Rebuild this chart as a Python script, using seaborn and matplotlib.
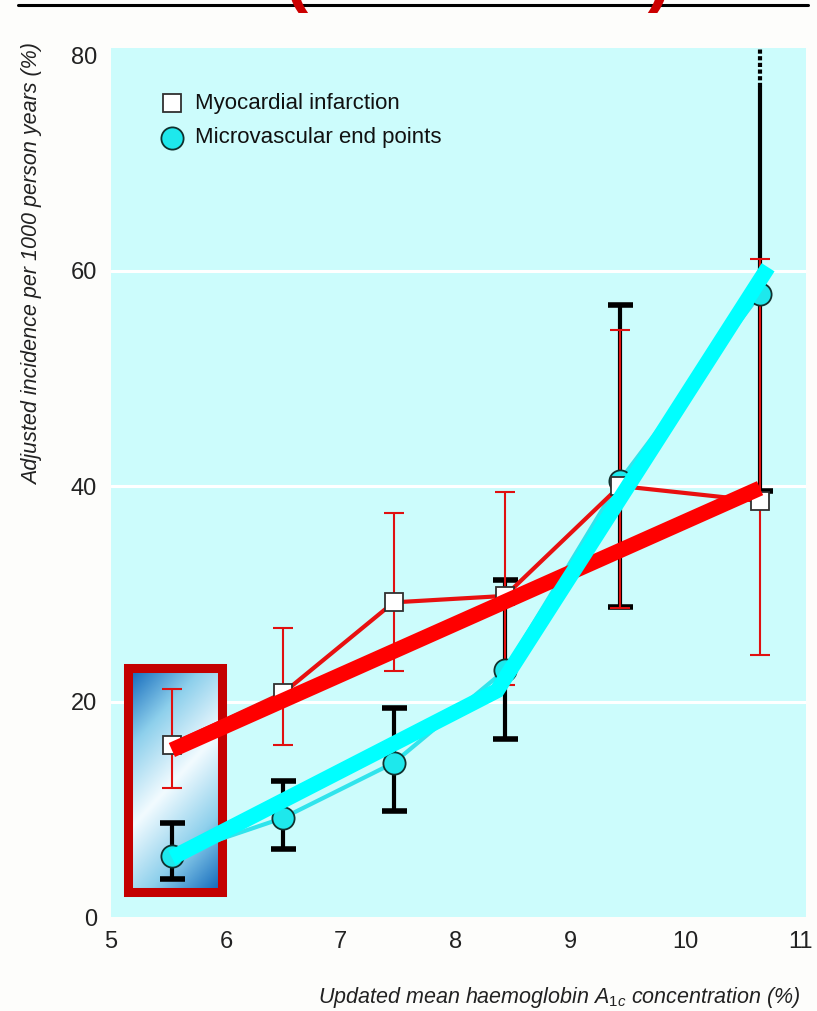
import numpy as np
import pandas as pd
import matplotlib
matplotlib.use('Agg')
import matplotlib.pyplot as plt
from matplotlib.patches import Rectangle
import seaborn as sns

# updated mean HbA1c groups (x) and adjusted incidence per 1000 person years
hba1c = [5.53, 6.50, 7.46, 8.43, 9.43, 10.65]
mi_rate = [16.0, 20.8, 29.2, 29.8, 40.0, 38.6]
mi_lo = [12.0, 16.0, 22.8, 21.5, 28.7, 24.3]
mi_hi = [21.2, 26.8, 37.5, 39.4, 54.5, 61.1]
micro_rate = [5.7, 9.2, 14.3, 22.9, 40.5, 57.8]
micro_lo = [3.5, 6.3, 9.8, 16.5, 28.8, 39.5]
micro_hi = [8.7, 12.6, 19.4, 31.3, 56.8, 77.0]

# hand-drawn trend strokes laid over the figure
red_trend_x = [5.53, 10.65]
red_trend_y = [15.5, 39.8]
cyan_trend_x = [5.53, 8.36, 10.72]
cyan_trend_y = [5.5, 21.0, 60.3]

# highlighted box (x0, x1, y0, y1)
box_x = [5.15, 5.97]
box_y = [2.3, 23.1]

xticks = [5, 6, 7, 8, 9, 10, 11]
yticks = [0, 20, 40, 60, 80]

sns.set_style('white')
plt.rcParams['font.family'] = ['Liberation Sans', 'DejaVu Sans']
plt.rcParams['mathtext.fontset'] = 'custom'
plt.rcParams['mathtext.it'] = 'Liberation Sans:italic'
plt.rcParams['mathtext.rm'] = 'Liberation Sans'

BG = '#ccfcfc'
fig = plt.figure(figsize=(8.17, 10.11), dpi=100)
ax = fig.add_axes([111 / 817, 1 - 917 / 1011, 695 / 817, 869 / 1011])
ax.set_facecolor(BG)
ax.set_xlim(5, 11.05)
ax.set_ylim(0, 80.65)
for s in ax.spines.values():
    s.set_visible(False)

for y in yticks[1:-1]:
    ax.axhline(y, color='white', lw=2.2, zorder=1)

# gradient box
gx, gy = np.meshgrid(np.linspace(0, 1, 60), np.linspace(0, 1, 140))
grad = np.abs(gx + gy * 2.2 - 1.6) / 1.6
ax.imshow(grad, cmap=matplotlib.colors.LinearSegmentedColormap.from_list(
    'g', ['#f2fbff', '#8ed0ec', '#0a62b8']), extent=[box_x[0], box_x[1], box_y[0], box_y[1]],
    origin='upper', aspect='auto', zorder=2, interpolation='bilinear')
ax.add_patch(Rectangle((box_x[0], box_y[0]), box_x[1] - box_x[0], box_y[1] - box_y[0],
                       fill=False, ec='#c40000', lw=6.5, zorder=2.5))

df = pd.DataFrame({'x': hba1c, 'mi': mi_rate, 'micro': micro_rate})

# error bars
mi_err = [np.array(mi_rate) - np.array(mi_lo), np.array(mi_hi) - np.array(mi_rate)]
ax.errorbar(hba1c, mi_rate, yerr=mi_err, fmt='none', ecolor='#e01010', elinewidth=1.5,
            capsize=7, capthick=1.5, zorder=3.2)
mr = np.array(micro_rate)
m_err = [mr - np.array(micro_lo), np.array(micro_hi) - mr]
ax.errorbar(hba1c[:-1], micro_rate[:-1], yerr=[m_err[0][:-1], m_err[1][:-1]], fmt='none',
            ecolor='black', elinewidth=3, capsize=9, capthick=4, zorder=3)
ax.plot([hba1c[-1]] * 2, [micro_lo[-1], micro_hi[-1]], color='black', lw=3, zorder=3)
ax.plot([hba1c[-1]] * 2, [micro_hi[-1], 80.65], color='black', lw=3, ls=(0, (1, 0.6)), zorder=3)
ax.plot([hba1c[-1]], [micro_lo[-1]], marker='_', ms=18, mew=4, color='black', zorder=3)

# thin connecting lines with markers
sns.lineplot(data=df, x='x', y='micro', color='#30e4ec', lw=3, ax=ax, zorder=3.5)
sns.lineplot(data=df, x='x', y='mi', color='#e81010', lw=3, ax=ax, zorder=3.5)
ax.plot(hba1c, micro_rate, ls='none', marker='o', ms=16, mfc='#1ee8ec', mec='#10302e',
        mew=1.3, zorder=4)
ax.plot(hba1c, mi_rate, ls='none', marker='s', ms=13, mfc='white', mec='#303030',
        mew=1.3, zorder=4)

# overlaid thick strokes
ax.plot(red_trend_x, red_trend_y, color='#ff0000', lw=11, zorder=5,
        solid_capstyle='butt')
ax.plot(cyan_trend_x, cyan_trend_y, color='#00ffff', lw=11, zorder=5.5,
        solid_capstyle='butt', solid_joinstyle='miter')

# legend
ax.plot([5.53], [75.5], marker='s', ms=13, mfc='white', mec='#303030', mew=1.3, ls='none')
ax.plot([5.53], [72.3], marker='o', ms=16, mfc='#1ee8ec', mec='#10302e', mew=1.3, ls='none')
ax.text(5.73, 75.5, 'Myocardial infarction', fontsize=16, va='center', ha='left', color='#111111')
ax.text(5.73, 72.3, 'Microvascular end points', fontsize=16, va='center', ha='left', color='#111111')

ax.set_xticks(xticks)
ax.set_yticks(yticks)
ax.tick_params(axis='x', direction='in', length=14, width=2, color='white', pad=10,
               labelsize=17, labelcolor='#222222')
ax.tick_params(axis='y', length=0, pad=10, labelsize=17, labelcolor='#222222')
ax.set_xlabel('')
ax.set_ylabel('')

fig.text(33 / 817, 1 - 264 / 1011, 'Adjusted incidence per 1000 person years (%)', rotation=90,
         style='italic', fontsize=15.5, ha='center', va='center', color='#222222')
fig.text(800 / 817, 1 - 1003 / 1011, r'Updated mean haemoglobin A$_{1c}$ concentration (%)',
         style='italic', fontsize=15.5, ha='right', va='baseline', color='#222222')

# title cropped at the top edge
fig.add_artist(plt.Line2D([18 / 817, 808 / 817], [1 - 5 / 1011] * 2, color='black', lw=2.2))
fig.text(478 / 817, 1 + 1 / 1011, '(UKPDS 35)', fontsize=50, fontweight='bold', color='#cc0000',
         ha='center', va='baseline')

fig.savefig('out.png', dpi=100, facecolor='#fdfdfb')
